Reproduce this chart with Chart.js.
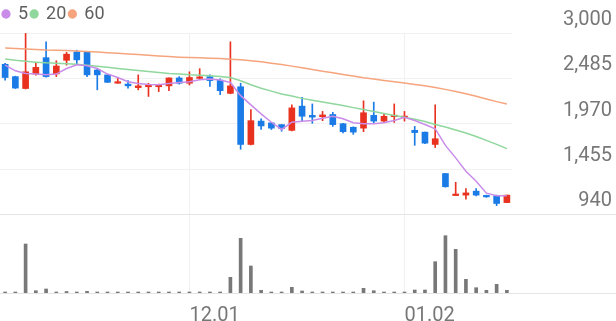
<!DOCTYPE html>
<html>
<head>
<meta charset="utf-8">
<script src="https://cdn.jsdelivr.net/npm/chart.js@4.4.1/dist/chart.umd.min.js"></script>
<style>
  html, body { margin: 0; padding: 0; background: #fff; }
  .chart-box { position: relative; width: 616px; height: 321px; }
</style>
</head>
<body>
<div class="chart-box"><canvas id="stockChart"></canvas></div>
<script>
//Data//
const dates = [
  "11.05", "11.06", "11.07", "11.10", "11.11", "11.12", "11.13", "11.14", "11.17", "11.18",
  "11.19", "11.20", "11.21", "11.24", "11.25", "11.26", "11.27", "11.28", "12.01", "12.02",
  "12.03", "12.04", "12.05", "12.08", "12.09", "12.10", "12.11", "12.12", "12.15", "12.16",
  "12.17", "12.18", "12.19", "12.22", "12.23", "12.24", "12.26", "12.29", "12.30", "01.02",
  "01.05", "01.06", "01.07", "01.08", "01.09", "01.12", "01.13", "01.14", "01.15", "01.16"
];
const tickDates = ["12.01", "01.02"];
const priceTicks = [940, 1455, 1970, 2485, 3000];

const openPrices = [
  2645, 2505, 2370, 2535, 2720, 2535, 2690, 2785, 2790, 2580,
  2525, 2430, 2420, 2380, 2390, 2390, 2400, 2490, 2430, 2485,
  2505, 2465, 2315, 2390, 1735, 2000, 1980, 1960, 1895, 2170,
  2065, 2050, 2075, 1970, 1930, 1920, 2065, 2000, 2050, 2040,
  1895, 1875, 1735, 1405, 1155, 1160, 1205, 1155, 1150, 1075
];
const highPrices = [
  2655, 2510, 2995, 2660, 2900, 2685, 2780, 2805, 2790, 2600,
  2525, 2495, 2460, 2525, 2430, 2420, 2490, 2505, 2560, 2595,
  2525, 2480, 2900, 2430, 2130, 2025, 1985, 1960, 2185, 2270,
  2195, 2110, 2100, 1975, 1935, 2230, 2215, 2080, 2195, 2110,
  1940, 1875, 2185, 1405, 1305, 1235, 1235, 1160, 1160, 1160
];
const lowPrices = [
  2465, 2370, 2365, 2520, 2500, 2505, 2635, 2645, 2505, 2355,
  2440, 2430, 2375, 2355, 2280, 2335, 2345, 2420, 2410, 2470,
  2395, 2300, 2310, 1680, 1730, 1905, 1905, 1885, 1890, 2005,
  1975, 2005, 1940, 1865, 1850, 1880, 1980, 1985, 1985, 2000,
  1725, 1745, 1700, 1250, 1155, 1115, 1150, 1135, 1040, 1075
];
const closePrices = [
  2495, 2375, 2560, 2610, 2505, 2625, 2760, 2695, 2525, 2525,
  2440, 2445, 2400, 2400, 2410, 2410, 2490, 2430, 2495, 2500,
  2460, 2345, 2400, 1735, 2005, 1945, 1920, 1915, 2150, 2055,
  2045, 2070, 1960, 1880, 1875, 2095, 2000, 2055, 2060, 2055,
  1870, 1750, 1800, 1255, 1170, 1185, 1160, 1140, 1065, 1160
];
const volumes = [
  10, 10, 490, 23, 40, 10, 15, 10, 17, 10,
  10, 10, 10, 10, 10, 10, 10, 10, 10, 8,
  10, 10, 157, 547, 270, 27, 10, 10, 57, 20,
  10, 10, 10, 10, 10, 47, 23, 10, 10, 10,
  30, 30, 313, 573, 437, 137, 53, 27, 87, 27
];

const ma5 = [
  2635, 2571, 2540, 2534, 2526, 2534, 2597, 2639, 2627, 2597,
  2534, 2495, 2447, 2428, 2416, 2413, 2428, 2439, 2447, 2469,
  2477, 2466, 2439, 2289, 2184, 2082, 1987, 1905, 1987, 1999,
  2006, 2032, 2055, 2026, 1981, 1969, 1969, 1981, 2006, 2044,
  2006, 1961, 1913, 1724, 1583, 1431, 1318, 1182, 1154, 1152
];
const ma20 = [
  2706, 2690, 2678, 2669, 2661, 2656, 2650, 2644, 2635, 2622,
  2610, 2597, 2586, 2574, 2563, 2552, 2541, 2534, 2526, 2521,
  2515, 2507, 2495, 2458, 2413, 2373, 2340, 2308, 2285, 2258,
  2238, 2218, 2198, 2176, 2153, 2131, 2108, 2086, 2063, 2044,
  2021, 1995, 1961, 1933, 1899, 1865, 1826, 1781, 1736, 1688
];
const ma60 = [
  2831, 2825, 2819, 2814, 2808, 2805, 2800, 2797, 2791, 2785,
  2777, 2771, 2763, 2757, 2748, 2740, 2732, 2726, 2721, 2718,
  2714, 2710, 2703, 2695, 2684, 2673, 2658, 2642, 2624, 2605,
  2586, 2565, 2548, 2529, 2511, 2492, 2477, 2461, 2447, 2432,
  2416, 2402, 2382, 2360, 2337, 2311, 2281, 2251, 2221, 2195
];

//Styles//
const upColor = "#e8321f";
const downColor = "#1a7be6";
const volumeColor = "#787878";
const gridColor = "#f1f1f1";
const baseLineColor = "#e4e4e4";
const labelColor = "#777777";
const labelFont = { family: "Roboto", size: 20 };

const candleColors = closePrices.map((close, i) => (close >= openPrices[i] ? upColor : downColor));
const bodies = openPrices.map((open, i) => [open, closePrices[i]]);
const wicks = lowPrices.map((low, i) => [low, highPrices[i]]);

const maLine = (label, data, color) => ({
  type: "line",
  label: label,
  data: data,
  borderColor: color,
  backgroundColor: color,
  borderWidth: 1.5,
  pointRadius: 0,
  yAxisID: "y",
});

//Full width lines under the price labels and the volume bars//
const paneLines = {
  id: "paneLines",
  beforeDatasetsDraw: (chart) => {
    const { ctx, chartArea, scales } = chart;
    const priceBottom = Math.round(scales.y.getPixelForValue(priceTicks[0])) + 0.5;
    const volumeBottom = Math.round(chartArea.bottom) + 0.5;
    ctx.save();
    ctx.strokeStyle = baseLineColor;
    ctx.lineWidth = 1;
    ctx.beginPath();
    ctx.moveTo(chartArea.left, priceBottom);
    ctx.lineTo(chart.width, priceBottom);
    ctx.moveTo(chartArea.right, volumeBottom);
    ctx.lineTo(chart.width, volumeBottom);
    ctx.stroke();
    ctx.restore();
  },
};

const chart = document.querySelector("#stockChart").getContext("2d");
const data = {
  labels: dates,
  datasets: [
    maLine("5", ma5, "#c98ce9"),
    maLine("20", ma20, "#8fd79c"),
    maLine("60", ma60, "#f6a47d"),
    {
      label: "body",
      data: bodies,
      backgroundColor: candleColors,
      barThickness: 6,
      minBarLength: 1.5,
      grouped: false,
      yAxisID: "y",
    },
    {
      label: "wick",
      data: wicks,
      backgroundColor: candleColors,
      barThickness: 1,
      grouped: false,
      yAxisID: "y",
    },
    {
      label: "volume",
      data: volumes,
      backgroundColor: volumeColor,
      barThickness: 3,
      minBarLength: 1,
      grouped: false,
      yAxisID: "v",
    },
  ],
};
const config = {
  type: "bar",
  data: data,
  plugins: [paneLines],
  options: {
    responsive: true,
    maintainAspectRatio: false,
    animation: false,
    events: [],
    layout: { padding: { top: 2, right: 4, left: 0, bottom: 0 } },
    plugins: {
      tooltip: { enabled: false },
      legend: {
        align: "start",
        labels: {
          usePointStyle: true,
          boxWidth: 6,
          boxHeight: 5.5,
          padding: 3,
          color: "#5f5f5f",
          font: { family: "Roboto", size: 18 },
          filter: (item) => item.datasetIndex < 3,
        },
      },
    },
    scales: {
      x: {
        offset: true,
        afterBuildTicks: (axis) => {
          axis.ticks = axis.ticks.filter((tick) => tickDates.includes(dates[tick.value]));
        },
        afterFit: (axis) => {
          axis.height = 28;
        },
        grid: { offset: false, color: gridColor, drawTicks: false },
        border: { color: baseLineColor },
        ticks: { align: "start", autoSkip: false, maxRotation: 0, padding: 11, color: labelColor, font: labelFont },
      },
      y: {
        position: "right",
        min: 49,
        max: 3000,
        afterBuildTicks: (axis) => {
          axis.ticks = priceTicks.map((value) => ({ value: value }));
        },
        afterFit: (axis) => {
          axis.width = 100;
        },
        grid: { color: gridColor, drawTicks: false },
        border: { display: false },
        ticks: {
          crossAlign: "far",
          labelOffset: -13,
          color: labelColor,
          font: labelFont,
          callback: (value) => value.toLocaleString("en-US"),
        },
      },
      v: {
        display: false,
        min: 0,
        max: 2600,
      },
    },
  },
};
const stockChart = new Chart(chart, config);
</script>
</body>
</html>
